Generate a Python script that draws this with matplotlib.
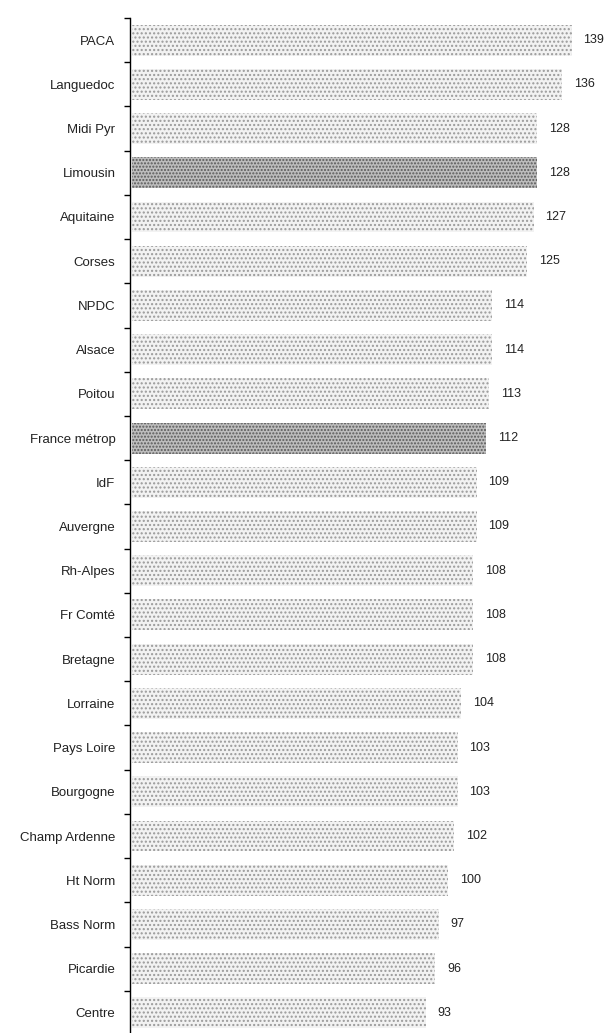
import matplotlib.pyplot as plt
import numpy as np

plt.rcParams['font.family'] = ['Liberation Sans', 'DejaVu Sans']
plt.rcParams['hatch.linewidth'] = 1.0

regions = ['PACA', 'Languedoc', 'Midi Pyr', 'Limousin', 'Aquitaine', 'Corses',
           'NPDC', 'Alsace', 'Poitou', 'France métrop', 'IdF', 'Auvergne',
           'Rh-Alpes', 'Fr Comté', 'Bretagne', 'Lorraine', 'Pays Loire',
           'Bourgogne', 'Champ Ardenne', 'Ht Norm', 'Bass Norm', 'Picardie',
           'Centre']
values = [139, 136, 128, 128, 127, 125, 114, 114, 113, 112, 109, 109,
          108, 108, 108, 104, 103, 103, 102, 100, 97, 96, 93]
highlight = ['Limousin', 'France métrop']

fig = plt.figure(figsize=(6.06, 10.33), dpi=100)
ax = fig.add_axes([130 / 606, -2 / 1033, 470 / 606, 1017 / 1033])

y = np.arange(len(regions))
for i, (name, v) in enumerate(zip(regions, values)):
    if name in highlight:
        fc, hc, hatch = '#bdbdbd', '#5a5a5a', '.....'
    else:
        fc, hc, hatch = '#f2f2f2', '#9a9a9a', '....'
    ax.barh(i, v, height=0.7, color=fc, edgecolor=hc, hatch=hatch,
            linewidth=0, left=0.5)
    ax.annotate(str(v), (v + 0.5, i), xytext=(8.6, 0), textcoords='offset points',
                va='center', ha='left', fontsize=9, color='#222222')

ax.set_ylim(len(regions) - 0.5, -0.5)
ax.set_xlim(0, 148.5)

# boundary ticks on the spine, names centred between them
ax.set_yticks(np.arange(len(regions) + 1) - 0.5)
ax.set_yticklabels([])
ax.tick_params(axis='y', which='major', length=4, width=1, direction='out')
ax.set_yticks(y, minor=True)
ax.set_yticklabels(regions, minor=True, fontsize=9.5, color='#222222')
ax.tick_params(axis='y', which='minor', length=0, pad=10.5)

ax.set_xticks([])
for side in ['top', 'right', 'bottom']:
    ax.spines[side].set_visible(False)
ax.spines['left'].set_linewidth(1.0)

fig.savefig('out.png', dpi=100)
